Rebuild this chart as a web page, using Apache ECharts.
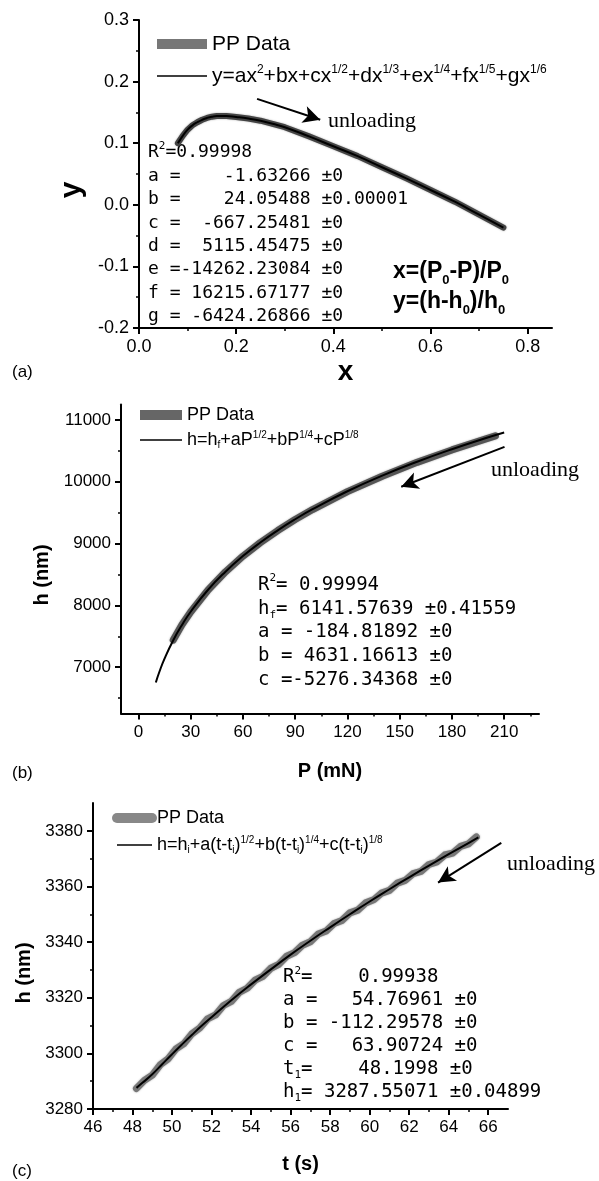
<!DOCTYPE html>
<html><head><meta charset="utf-8">
<script src="https://cdn.jsdelivr.net/npm/echarts@6/dist/echarts.min.js"></script>
<style>html,body{margin:0;padding:0;background:#fff}#c{width:599px;height:1181px}</style>
</head><body><div id="c"></div>
<script>
// ---------- Panel (a) ----------
const aX = [0.080,0.090,0.100,0.110,0.120,0.130,0.140,0.150,0.160,0.180,0.200,0.225,0.250,0.275,0.300,0.350,0.400,0.450,0.500,0.550,0.600,0.650,0.700,0.750];
const aY = [0.100,0.112,0.122,0.129,0.134,0.138,0.141,0.143,0.144,0.144,0.1425,0.140,0.1365,0.1315,0.126,0.111,0.095,0.079,0.061,0.043,0.024,0.005,-0.016,-0.037];
const aFitX = aX;
const aFitY = [0.100,0.112,0.122,0.129,0.134,0.138,0.141,0.143,0.144,0.144,0.1425,0.140,0.1365,0.1315,0.126,0.111,0.095,0.079,0.061,0.043,0.024,0.005,-0.016,-0.037];
const aXTicks = [0.0,0.2,0.4,0.6,0.8];
const aXMinor = [0.1,0.3,0.5,0.7];
const aYTicks = [-0.2,-0.1,0.0,0.1,0.2,0.3];
const aYMinor = [-0.15,-0.05,0.05,0.15,0.25];
const aArrow = [[0.243,0.172],[0.373,0.138]];
const aFitName = 'y=ax^2+bx+cx^1/2+dx^1/3+ex^1/4+fx^1/5+gx^1/6';
const aFitLabel = 'y=ax{sup|2}+bx+cx{sup|1/2}+dx{sup|1/3}+ex{sup|1/4}+fx{sup|1/5}+gx{sup|1/6}';
const aNotes = [
  'R{sup|2}=0.99998',
  'a =    -1.63266 ±0',
  'b =    24.05488 ±0.00001',
  'c =  -667.25481 ±0',
  'd =  5115.45475 ±0',
  'e =-14262.23084 ±0',
  'f = 16215.67177 ±0',
  'g = -6424.26866 ±0'
];
const aDefs = ['x=(P{s|0}-P)/P{s|0}', 'y=(h-h{s|0})/h{s|0}'];

// ---------- Panel (b) ----------
const bDataP = [20,25,30,40,50,60,70,80,90,100,120,140,160,180,200,205];
const bDataH = [7440,7686,7893,8249,8543,8795,9015,9210,9388,9550,9840,10090,10314,10515,10698,10742];
const bFitP = [10,12,15,20,25,30,40,50,60,70,80,90,100,120,140,160,180,200,210];
const bFitH = [6753,6922,7138,7436,7683,7896,8252,8545,8797,9017,9214,9393,9556,9846,10099,10324,10527,10712,10798];
const bXTicks = [0,30,60,90,120,150,180,210];
const bXMinor = [15,45,75,105,135,165,195,225];
const bYTicks = [7000,8000,9000,10000,11000];
const bYMinor = [6500,7500,8500,9500,10500];
const bArrow = [[210.2,10564],[150.9,9919]];
const bFitName = 'h=hf+aP^1/2+bP^1/4+cP^1/8';
const bFitLabel = 'h=h{sub|f}+aP{sup|1/2}+bP{sup|1/4}+cP{sup|1/8}';
const bNotes = [
  'R{sup|2}= 0.99994',
  'h{sub|f}= 6141.57639 ±0.41559',
  'a = -184.81892 ±0',
  'b = 4631.16613 ±0',
  'c =-5276.34368 ±0'
];

// ---------- Panel (c) ----------
const cDataT = [48.2,48.6,49.0,49.4,49.8,50.2,50.6,51.0,51.4,51.8,52.2,52.6,53.0,53.4,53.8,54.2,54.6,55.0,55.4,55.8,56.2,56.6,57.0,57.4,57.8,58.2,58.6,59.0,59.4,59.8,60.2,60.6,61.0,61.4,61.8,62.2,62.6,63.0,63.4,63.8,64.2,64.6,65.0,65.4];
const cDataH = [3287.4,3290.3,3292.2,3295.9,3298.0,3301.6,3303.5,3307.0,3309.1,3312.4,3313.8,3317.2,3318.7,3321.9,3323.4,3326.3,3327.7,3330.6,3332.0,3334.9,3336.2,3338.9,3340.1,3342.9,3344.0,3346.7,3347.8,3350.5,3351.5,3354.1,3355.2,3357.6,3358.6,3361.2,3362.2,3364.6,3365.4,3367.9,3368.8,3371.3,3372.0,3374.4,3375.3,3377.8];
const cFitT = [48.2,48.5,49,49.5,50,50.5,51,51.5,52,53,54,55,56,57,58,59,60,61,62,63,64,65,65.5];
const cFitH = [3287.6,3289.4,3292.5,3296.1,3299.7,3303.2,3306.6,3309.9,3313.0,3319.1,3324.8,3330.2,3335.5,3340.5,3345.3,3350.0,3354.6,3359.0,3363.3,3367.5,3371.6,3375.6,3377.6];
const cXTicks = [46,48,50,52,54,56,58,60,62,64,66];
const cXMinor = [47,49,51,53,55,57,59,61,63,65];
const cYTicks = [3280,3300,3320,3340,3360,3380];
const cYMinor = [3290,3310,3330,3350,3370];
const cArrow = [[66.66,3375.7],[63.46,3361.4]];
const cFitName = 'h=hi+a(t-ti)^1/2+b(t-ti)^1/4+c(t-ti)^1/8';
const cFitLabel = 'h=h{sub|i}+a(t-t{sub|i}){sup|1/2}+b(t-t{sub|i}){sup|1/4}+c(t-t{sub|i}){sup|1/8}';
const cNotes = [
  'R{sup|2}=    0.99938',
  'a =   54.76961 ±0',
  'b = -112.29578 ±0',
  'c =   63.90724 ±0',
  't{sub|1}=    48.1998 ±0',
  'h{sub|1}= 3287.55071 ±0.04899'
];

// ---------- build ----------
const SANS = 'Arial, "Liberation Sans", sans-serif';
const MONO = '"DejaVu Sans Mono", monospace';
const SERIF = '"Times New Roman", "Liberation Serif", serif';
const zip = (xs, ys) => xs.map((x, i) => [x, ys[i]]);

function axisPair(kind, grid, min, max, ticks, minor, fmt, fs, name, nameGap, nameFs, namePad) {
  const main = {
    type: 'value', gridIndex: grid, min: min, max: max,
    position: kind === 'x' ? 'bottom' : 'left',
    axisLine: {show: true, onZero: false, lineStyle: {color: '#000', width: 2}},
    axisTick: {show: true, customValues: ticks, length: 6, lineStyle: {color: '#000', width: 2}},
    axisLabel: {show: true, customValues: ticks, formatter: fmt, color: '#000', fontSize: fs, fontFamily: SANS, margin: 10},
    splitLine: {show: false},
    name: name, nameLocation: 'middle', nameGap: nameGap,
    nameTextStyle: {color: '#000', fontSize: nameFs, fontWeight: 'bold', fontFamily: SANS, padding: namePad || 0}
  };
  const mn = {
    type: 'value', gridIndex: grid, min: min, max: max,
    position: kind === 'x' ? 'bottom' : 'left',
    axisLine: {show: false, onZero: false},
    axisTick: {show: true, customValues: minor, length: 3, lineStyle: {color: '#000', width: 1.5}},
    axisLabel: {show: false},
    splitLine: {show: false}
  };
  return [main, mn];
}

const xAxes = [].concat(
  axisPair('x', 0, 0, 0.85, aXTicks, aXMinor, v => v.toFixed(1), 18, 'x', 30, 28),
  axisPair('x', 1, -10, 230, bXTicks, bXMinor, v => String(v), 17, 'P (mN)', 48, 20),
  axisPair('x', 2, 46, 67, cXTicks, cXMinor, v => String(v), 17, 't (s)', 45, 20)
);
const yAxes = [].concat(
  axisPair('y', 0, -0.2, 0.3, aYTicks, aYMinor, v => v.toFixed(1), 18, 'y', 50, 30, [0, 32, 0, 0]),
  axisPair('y', 1, 6250, 11250, bYTicks, bYMinor, v => String(v), 17, 'h (nm)', 68, 20, [0, 32, 0, 0]),
  axisPair('y', 2, 3280, 3390, cYTicks, cYMinor, v => String(v), 17, 'h (nm)', 58, 20, [0, 34, 0, 0])
);

function arrowLine(pts) {
  return {
    silent: true, symbol: ['none', 'arrow'], symbolSize: [13, 17],
    lineStyle: {color: '#000', width: 2, type: 'solid'},
    label: {show: false}, emphasis: {disabled: true},
    data: [[{coord: pts[0]}, {coord: pts[1]}]]
  };
}

function dataSeries(idx, pts, color, width, cap) {
  return {type: 'line', name: 'PP Data', xAxisIndex: idx * 2, yAxisIndex: idx * 2, data: pts,
    symbol: 'none', showSymbol: false, smooth: false, z: 2,
    lineStyle: {color: color, width: width, cap: cap || 'round', join: 'round', shadowColor: 'rgba(0,0,0,0.35)', shadowBlur: 2}};
}
function fitSeries(idx, name, pts, arrow) {
  return {type: 'line', name: name, xAxisIndex: idx * 2, yAxisIndex: idx * 2, data: pts,
    symbol: 'none', showSymbol: false, smooth: true, z: 3,
    lineStyle: {color: '#000', width: 2},
    markLine: arrowLine(arrow)};
}

function legendFor(left, top, iw, gap, fs, lh, fitName, fitLabel, ppColor, ppCap) {
  const map = {'PP Data': 'PP Data'};
  map[fitName] = fitLabel;
  const hidden = {color: 'rgba(0,0,0,0)', borderWidth: 0, opacity: 0};
  return {
    left: left, top: top, orient: 'vertical', itemWidth: iw, itemHeight: 10, itemGap: gap,
    selectedMode: false, padding: 0,
    data: [
      {name: 'PP Data', itemStyle: hidden, lineStyle: {color: ppColor, width: 10, cap: ppCap}},
      {name: fitName, itemStyle: hidden, lineStyle: {color: '#000', width: 1.5}}
    ],
    formatter: n => map[n] || n,
    textStyle: {color: '#000', fontSize: fs, fontFamily: SANS, lineHeight: lh,
      rich: {
        sup: {fontSize: Math.round(fs * 0.56), fontFamily: SANS, color: '#000', verticalAlign: 'top', lineHeight: Math.round(fs * 0.56)},
        sub: {fontSize: Math.round(fs * 0.56), fontFamily: SANS, color: '#000', verticalAlign: 'bottom', lineHeight: Math.round(fs * 0.56)}
      }}
  };
}

function monoText(lines, x, top, fs, lh) {
  const s = Math.round(fs * 0.6);
  return {type: 'text', left: x, top: top, silent: true,
    style: {text: lines.join('\n'), fontSize: fs, fontFamily: MONO, fontWeight: 'normal', fill: '#000', lineHeight: lh,
      rich: {
        sup: {fontSize: s, fontFamily: MONO, fontWeight: 'normal', fill: '#000', verticalAlign: 'top', lineHeight: s},
        sub: {fontSize: s, fontFamily: MONO, fontWeight: 'normal', fill: '#000', verticalAlign: 'bottom', lineHeight: s}
      }}};
}
function plainText(t, x, y, fs, fam, weight) {
  return {type: 'text', left: x, top: y, silent: true,
    style: {text: t, fontSize: fs, fontFamily: fam, fontWeight: weight || 'normal', fill: '#000'}};
}

const option = {
  animation: false,
  backgroundColor: '#fff',
  grid: [
    {left: 139, top: 20, width: 413, height: 308},
    {left: 121, top: 404.5, width: 418, height: 309},
    {left: 93, top: 803, width: 415, height: 306}
  ],
  xAxis: xAxes,
  yAxis: yAxes,
  legend: [
    legendFor(152, 32, 50, 8, 21, 24, aFitName, aFitLabel, '#777', 'butt'),
    legendFor(135, 405, 42, 5, 18, 20, bFitName, bFitLabel, '#666', 'butt'),
    legendFor(112, 808, 35, 7, 18, 20, cFitName, cFitLabel, '#888', 'round')
  ],
  series: [
    dataSeries(0, zip(aX, aY), '#444', 6),
    fitSeries(0, aFitName, zip(aFitX, aFitY), aArrow),
    dataSeries(1, zip(bDataP, bDataH), '#555', 7),
    fitSeries(1, bFitName, zip(bFitP, bFitH), bArrow),
    dataSeries(2, zip(cDataT, cDataH), '#777', 7),
    fitSeries(2, cFitName, zip(cFitT, cFitH), cArrow)
  ],
  graphic: [
    plainText('(a)', 12, 364, 17, SANS),
    plainText('(b)', 12, 765, 17, SANS),
    plainText('(c)', 12, 1163, 17, SANS),
    plainText('unloading', 328, 110, 22, SERIF),
    plainText('unloading', 491, 459, 22, SERIF),
    plainText('unloading', 507, 853, 22, SERIF),
    monoText(aNotes, 148, 141, 18, 23.4),
    monoText(bNotes, 258, 573, 19, 23.8),
    monoText(cNotes, 283, 966, 19, 23),
    {type: 'text', left: 393, top: 257, silent: true,
      style: {text: aDefs.join('\n'), fontSize: 23, fontFamily: SANS, fontWeight: 'bold', fill: '#000', lineHeight: 30,
        rich: {s: {fontSize: 13, fontFamily: SANS, fontWeight: 'bold', fill: '#000', verticalAlign: 'bottom', lineHeight: 13}}}}
  ]
};

const chart = echarts.init(document.getElementById('c'), null, {renderer: 'canvas'});
chart.setOption(option);
</script>
</body></html>
